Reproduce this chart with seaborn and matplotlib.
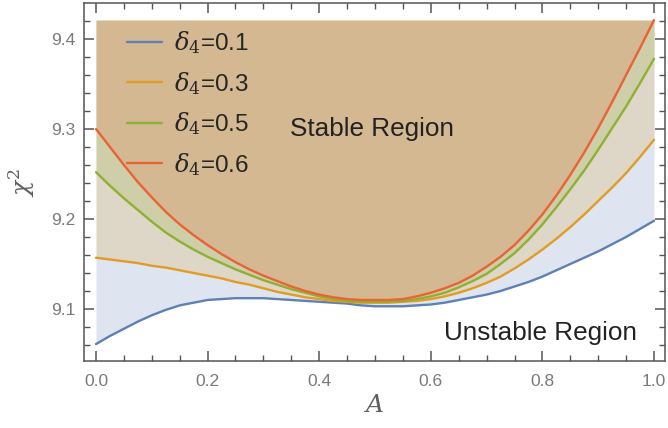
import numpy as np
import pandas as pd
import matplotlib
matplotlib.use("Agg")
import matplotlib.pyplot as plt
import seaborn as sns

# values
A = [0.0, 0.025, 0.05, 0.075, 0.1, 0.125, 0.15, 0.175, 0.2, 0.225,
     0.25, 0.275, 0.3, 0.325, 0.35, 0.375, 0.4, 0.425, 0.45, 0.475,
     0.5, 0.525, 0.55, 0.575, 0.6, 0.625, 0.65, 0.675, 0.7, 0.725,
     0.75, 0.775, 0.8, 0.825, 0.85, 0.875, 0.9, 0.925, 0.95, 0.975, 1.0]
chi2_d01 = [9.061, 9.070, 9.078, 9.086, 9.093, 9.099, 9.104, 9.107, 9.110, 9.111,
            9.112, 9.112, 9.112, 9.111, 9.110, 9.109, 9.108, 9.107, 9.106, 9.104,
            9.103, 9.103, 9.103, 9.104, 9.105, 9.107, 9.110, 9.113, 9.116, 9.120,
            9.125, 9.130, 9.136, 9.143, 9.150, 9.157, 9.164, 9.172, 9.180, 9.189, 9.198]
chi2_d03 = [9.157, 9.155, 9.153, 9.151, 9.148, 9.146, 9.143, 9.140, 9.137, 9.134,
            9.130, 9.127, 9.123, 9.119, 9.116, 9.113, 9.111, 9.109, 9.108, 9.107,
            9.107, 9.107, 9.108, 9.109, 9.111, 9.114, 9.118, 9.123, 9.129, 9.136,
            9.145, 9.155, 9.166, 9.178, 9.191, 9.205, 9.220, 9.235, 9.251, 9.269, 9.288]
chi2_d05 = [9.252, 9.237, 9.223, 9.210, 9.197, 9.185, 9.175, 9.166, 9.158, 9.151,
            9.144, 9.138, 9.132, 9.127, 9.122, 9.118, 9.114, 9.111, 9.109, 9.108,
            9.108, 9.108, 9.109, 9.111, 9.114, 9.118, 9.124, 9.131, 9.139, 9.150,
            9.162, 9.177, 9.194, 9.213, 9.233, 9.254, 9.277, 9.301, 9.325, 9.351, 9.378]
chi2_d06 = [9.300, 9.280, 9.260, 9.241, 9.224, 9.208, 9.194, 9.182, 9.171, 9.161,
            9.152, 9.144, 9.137, 9.131, 9.125, 9.120, 9.116, 9.113, 9.111, 9.110,
            9.110, 9.110, 9.111, 9.114, 9.118, 9.123, 9.129, 9.137, 9.147, 9.158,
            9.171, 9.187, 9.205, 9.226, 9.249, 9.274, 9.301, 9.330, 9.360, 9.390, 9.421]

labels = [r"$\delta_4$=0.1", r"$\delta_4$=0.3", r"$\delta_4$=0.5", r"$\delta_4$=0.6"]
series = [chi2_d01, chi2_d03, chi2_d05, chi2_d06]
colors = ["#5e81b5", "#e19c24", "#8fb032", "#eb6235"]

df = pd.concat([pd.DataFrame({"A": A, "chi2": s, "delta": lab})
                for s, lab in zip(series, labels)], ignore_index=True)

sns.set_style("ticks")
plt.rcParams["font.family"] = ["Liberation Sans", "DejaVu Sans"]
plt.rcParams["mathtext.fontset"] = "dejavuserif"

fig = plt.figure(figsize=(6.68, 4.28), dpi=100)
ax = fig.add_axes([84 / 668, 1 - 361 / 428, 581 / 668, 358 / 428])
ax.set_axisbelow(False)

# Mathematica-style filling: each curve filled up to the top of the data
top = max(max(s) for s in series)
for s, c in zip(series, colors):
    ax.fill_between(A, s, top, color=c, alpha=0.2, linewidth=0)

sns.lineplot(data=df, x="A", y="chi2", hue="delta", palette=colors,
             linewidth=1.7, ax=ax)

ax.set_xlim(-0.0215, 1.0197)
ax.set_ylim(9.0422, 9.4400)
ax.set_xticks(np.arange(0, 1.01, 0.2))
ax.set_xticks(np.arange(0, 1.01, 0.05), minor=True)
ax.set_yticks([9.1, 9.2, 9.3, 9.4])
ax.set_yticks(np.arange(9.06, 9.44, 0.02), minor=True)
ax.xaxis.set_major_formatter(matplotlib.ticker.FormatStrFormatter("%.1f"))
ax.tick_params(which="both", direction="in", top=True, right=True,
               color="#555555", labelcolor="#7a7a7a", labelsize=12.5)
ax.tick_params(which="major", length=7, width=1.1)
ax.tick_params(which="minor", length=4, width=1.0)
ax.tick_params(axis="x", pad=9)
ax.tick_params(axis="y", pad=6)
for sp in ax.spines.values():
    sp.set_color("#555555")
    sp.set_linewidth(1.1)

ax.set_xlabel("A", family="DejaVu Serif", style="italic", fontsize=18,
              color="#606060", labelpad=4)
ax.set_ylabel(r"$\chi^2$", fontsize=18, color="#606060", labelpad=10)

ax.text(0.495, 9.300, "Stable Region", fontsize=18.8, color="#222222",
        ha="center", va="center")
ax.text(0.797, 9.073, "Unstable Region", fontsize=18.8, color="#222222",
        ha="center", va="center")

ax.legend(loc="upper left", bbox_to_anchor=(0.074, 0.927), frameon=False,
          fontsize=17.5, handlelength=1.45, handletextpad=0.5,
          borderpad=0, borderaxespad=0, labelspacing=0.56, title=None)

fig.savefig("out.png", dpi=100)
